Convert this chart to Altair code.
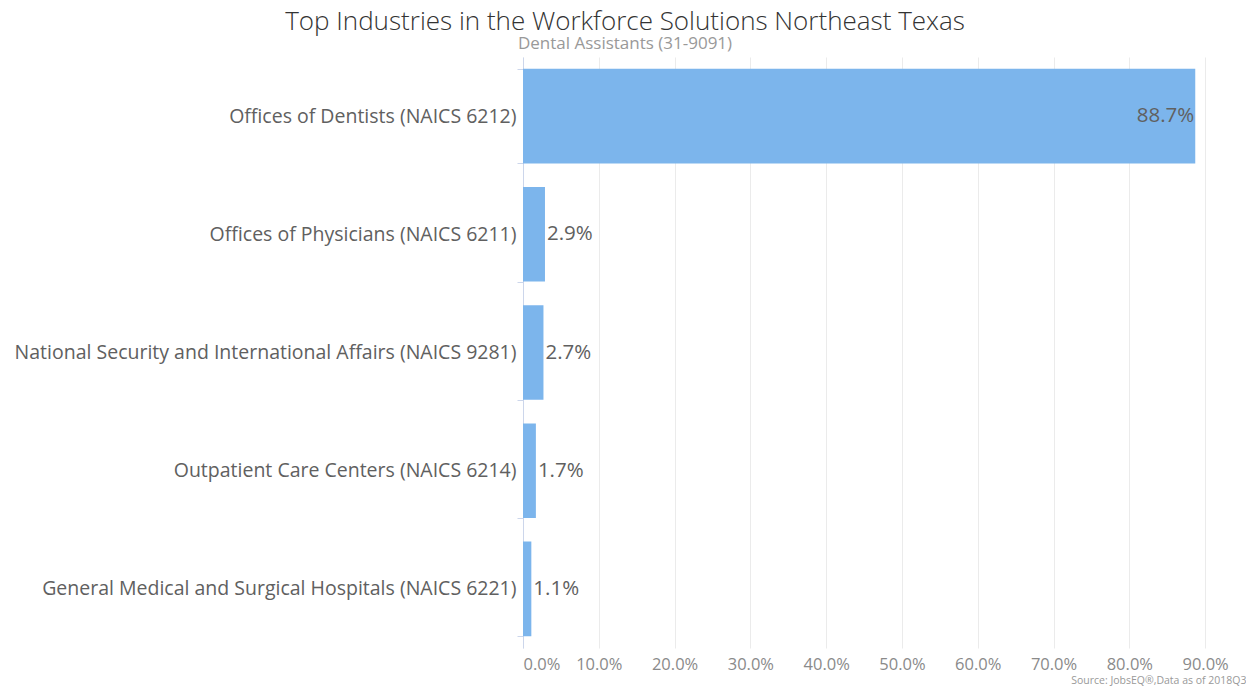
import altair as alt
import pandas as pd

industries = [
    "Offices of Dentists (NAICS 6212)",
    "Offices of Physicians (NAICS 6211)",
    "National Security and International Affairs (NAICS 9281)",
    "Outpatient Care Centers (NAICS 6214)",
    "General Medical and Surgical Hospitals (NAICS 6221)",
]
shares = [88.7, 2.9, 2.7, 1.7, 1.1]
x_ticks = [0, 5, 10, 15, 20, 25, 30, 35, 40, 45, 50, 55, 60, 65, 70, 75, 80, 85, 90, 95]

df = pd.DataFrame({"industry": industries, "share": shares})
df["label"] = [f"{v:.1f}%" for v in shares]

FONT = "Open Sans"

y_enc = alt.Y(
    "industry:N",
    sort=industries,
    scale=alt.Scale(paddingInner=0.2, paddingOuter=0.1),
    axis=alt.Axis(
        title=None,
        labelFontSize=19.5,
        labelColor="#606060",
        labelFont=FONT,
        labelLimit=600,
        domainColor="#ccd6eb",
        tickColor="#ccd6eb",
        tickSize=6,
        labelPadding=1,
        tickBand="extent",
        grid=False,
    ),
)

x_enc = alt.X(
    "share:Q",
    scale=alt.Scale(domain=[0, 95], nice=False),
    axis=alt.Axis(
        values=x_ticks,
        labelExpr="datum.value % 10 == 0 ? format(datum.value, '.1f') + '%' : ''",
        labelFontSize=16.5,
        labelColor="#8a8a8a",
        labelFont=FONT,
        labelPadding=8,
        ticks=False,
        domain=False,
        grid=True,
        gridColor="#ebebeb",
        title="Source: JobsEQ®,Data as of 2018Q3",
        titleFontSize=10.5,
        titleFont=FONT,
        titleFontWeight="normal",
        titleColor="#999999",
        titleAnchor="end",
        titleAlign="right",
        titleBaseline="alphabetic",
        titleX=723,
        titleY=35,
    ),
)

bars = alt.Chart(df).mark_bar(color="#7cb5ec").encode(x=x_enc, y=y_enc)

inside = alt.Chart(df).transform_filter("datum.share >= 50").mark_text(
    align="right", baseline="middle", dx=-1, fontSize=20.5, font=FONT, color="#606060"
).encode(x="share:Q", y=alt.Y("industry:N", sort=industries), text="label:N")

outside = alt.Chart(df).transform_filter("datum.share < 50").mark_text(
    align="left", baseline="middle", dx=2, fontSize=20.5, font=FONT, color="#606060"
).encode(x="share:Q", y=alt.Y("industry:N", sort=industries), text="label:N")

chart = (
    alt.layer(bars, inside, outside)
    .properties(
        width=720,
        height=591,
        autosize=alt.AutoSizeParams(type="none"),
        padding={"left": 515, "top": 49, "right": 3, "bottom": 39},
        background="white",
        title=alt.TitleParams(
            text="Top Industries in the Workforce Solutions Northeast Texas",
            subtitle="Dental Assistants (31-9091)",
            anchor="middle",
            frame="group",
            dx=-258,
            font=FONT,
            fontSize=26,
            fontWeight=300,
            color="#333333",
            subtitleFont=FONT,
            subtitleFontSize=17,
            subtitleColor="#999999",
            subtitlePadding=1,
            offset=-5,
        ),
    )
    .configure_view(stroke=None)
)

chart.save("out.html", embed_options={"renderer": "svg", "actions": False})
